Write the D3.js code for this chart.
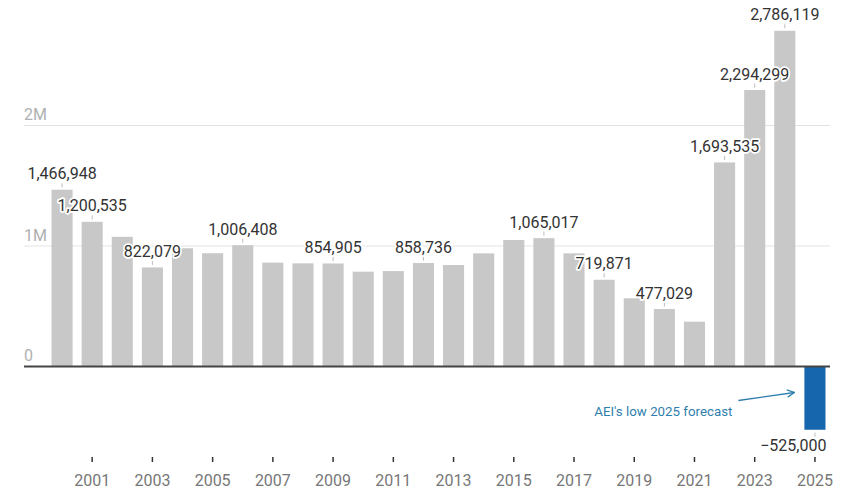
<!DOCTYPE html>
<html lang="en">
<head>
<meta charset="utf-8">
<title>Net migration by year</title>
<script src="https://d3js.org/d3.v7.min.js"></script>
<style type="text/css">
  body { margin: 0; background: #fff; }
  svg { display: block; font-family: Roboto, "Noto Sans", sans-serif; }
</style>
</head>
<body>
<svg width="843" height="489"></svg>
<script>

// data
var years = d3.range(2000, 2026);
var values = [1466948, 1200535, 1076000, 822079, 981000, 940000, 1006408, 862000,
              856000, 854905, 787000, 792000, 858736, 842000, 939000, 1050000,
              1065017, 939000, 719871, 566000, 477029, 372000, 1693535, 2294299,
              2786119, -525000];
var labelled = [2000, 2001, 2003, 2006, 2009, 2012, 2016, 2018, 2020, 2022, 2023, 2024, 2025];
var yTicks = [0, 1000000, 2000000];
var yTickLabels = ["0", "1M", "2M"];
var xTickYears = d3.range(2001, 2026, 2);
var note = "AEI's low 2025 forecast";

var dataset = years.map(function(y, i) { return {year: y, value: values[i]}; });

var svg = d3.select("svg");

var xScale = d3.scaleBand()
    .domain(years)
    .range([47, 830])
    .paddingInner(0.3)
    .paddingOuter(0.15);

var yScale = d3.scaleLinear()
    .domain([0, 2000000])
    .range([366.5, 125.5]);

var fmt = d3.format(",");

// gridlines + y labels
var grid = svg.append("g");
grid.selectAll("line")
  .data(yTicks.filter(function(d) { return d > 0; }))
  .enter().append("line")
    .attr("x1", 24).attr("x2", 830)
    .attr("y1", function(d) { return yScale(d); })
    .attr("y2", function(d) { return yScale(d); })
    .attr("stroke", "#e3e3e3")
    .attr("stroke-width", 1);

grid.selectAll("text")
  .data(yTicks)
  .enter().append("text")
    .attr("x", 24)
    .attr("y", function(d) { return yScale(d) - 5.5; })
    .attr("fill", "#b0b0b0")
    .style("font-size", "16px")
    .text(function(d, i) { return yTickLabels[i]; });

// bars
svg.append("g").selectAll(".bar")
  .data(dataset)
  .enter().append("rect")
    .attr("class", "bar")
    .attr("x", function(d) { return xScale(d.year); })
    .attr("y", function(d) { return yScale(Math.max(0, d.value)); })
    .attr("width", xScale.bandwidth())
    .attr("height", function(d) { return Math.abs(yScale(d.value) - yScale(0)); })
    .attr("fill", function(d) { return d.value < 0 ? "#1666ad" : "#c8c8c8"; });

// zero line
svg.append("line")
    .attr("x1", 24).attr("x2", 830)
    .attr("y1", yScale(0)).attr("y2", yScale(0))
    .attr("stroke", "#444")
    .attr("stroke-width", 2);

// value labels
var lab = dataset.filter(function(d) { return labelled.indexOf(d.year) >= 0; });
var lg = svg.append("g");

lg.selectAll("line")
  .data(lab)
  .enter().append("line")
    .attr("x1", function(d) { return xScale(d.year) + xScale.bandwidth() / 2; })
    .attr("x2", function(d) { return xScale(d.year) + xScale.bandwidth() / 2; })
    .attr("y1", function(d) { return d.value < 0 ? yScale(d.value) + 3 : yScale(d.value) - 2.5; })
    .attr("y2", function(d) { return d.value < 0 ? yScale(d.value) + 7 : yScale(d.value) - 6.5; })
    .attr("stroke", "#bbb")
    .attr("stroke-width", 1);

lg.selectAll("text")
  .data(lab)
  .enter().append("text")
    .attr("x", function(d) {
      return d.value < 0 ? xScale(d.year) + xScale.bandwidth() + 1 : xScale(d.year) + xScale.bandwidth() / 2;
    })
    .attr("y", function(d) { return d.value < 0 ? yScale(d.value) + 21 : yScale(d.value) - 10.5; })
    .attr("text-anchor", function(d) { return d.value < 0 ? "end" : "middle"; })
    .attr("fill", "#333")
    .attr("stroke", "#fff")
    .attr("stroke-width", 3.5)
    .attr("stroke-linejoin", "round")
    .attr("paint-order", "stroke")
    .style("font-size", "16px")
    .text(function(d) { return (d.value < 0 ? "\u2212" : "") + fmt(Math.abs(d.value)); });

// x axis
var xAxis = svg.append("g");
xAxis.selectAll("line")
  .data(xTickYears)
  .enter().append("line")
    .attr("x1", function(d) { return xScale(d) + xScale.bandwidth() / 2; })
    .attr("x2", function(d) { return xScale(d) + xScale.bandwidth() / 2; })
    .attr("y1", 457).attr("y2", 462)
    .attr("stroke", "#333")
    .attr("stroke-width", 1.5);

xAxis.selectAll("text")
  .data(xTickYears)
  .enter().append("text")
    .attr("x", function(d) { return xScale(d) + xScale.bandwidth() / 2; })
    .attr("y", 486)
    .attr("text-anchor", "middle")
    .attr("fill", "#777")
    .style("font-size", "16px")
    .text(function(d) { return d; });

// annotation
var last = dataset[dataset.length - 1];
var ax = xScale(last.year);
svg.append("defs").append("marker")
    .attr("id", "arrow")
    .attr("viewBox", "0 0 10 10")
    .attr("refX", 9).attr("refY", 5)
    .attr("markerWidth", 7).attr("markerHeight", 7)
    .attr("orient", "auto")
  .append("path")
    .attr("d", "M1,1 L9,5 L1,9")
    .attr("fill", "none")
    .attr("stroke", "#2f7fae")
    .attr("stroke-width", 1.4);

svg.append("path")
    .attr("d", "M" + (ax - 66) + "," + (yScale(0) + 34) + " Q" + (ax - 38) + "," + (yScale(0) + 30) + " " + (ax - 10) + "," + (yScale(0) + 26))
    .attr("fill", "none")
    .attr("stroke", "#2f7fae")
    .attr("stroke-width", 1.3)
    .attr("marker-end", "url(#arrow)");

svg.append("text")
    .attr("x", ax - 72)
    .attr("y", yScale(0) + 49)
    .attr("text-anchor", "end")
    .attr("fill", "#2f7fae")
    .style("font-size", "13.3px")
    .text(note);

</script>
</body>
</html>
